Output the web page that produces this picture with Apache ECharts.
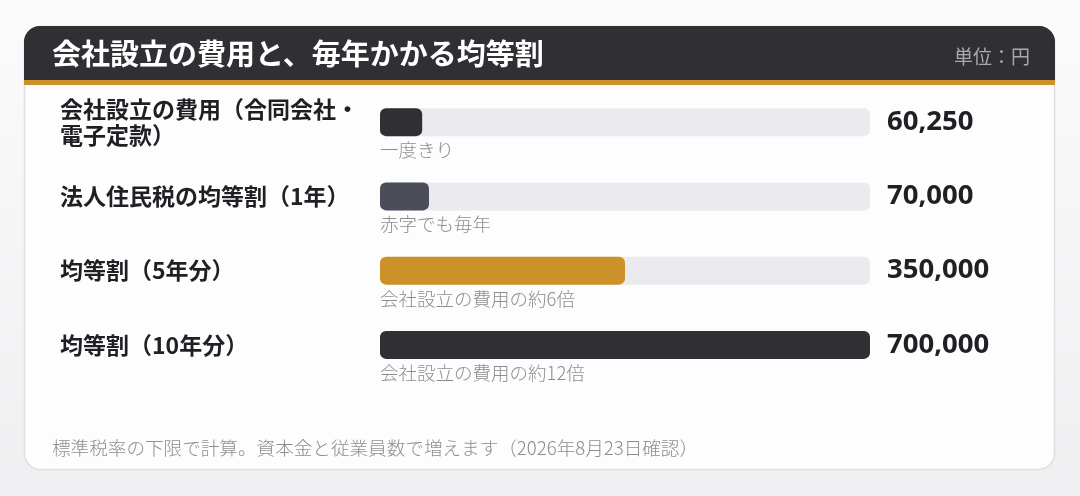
<!DOCTYPE html>
<html><head><meta charset="utf-8">
<script src="https://cdn.jsdelivr.net/npm/echarts@6/dist/echarts.min.js"></script>
<style>html,body{margin:0;padding:0;background:#f4f4f6;}#c{width:1080px;height:496px;}</style>
</head><body><div id="c"></div>
<script>
const title = '会社設立の費用と、毎年かかる均等割';
const unitLabel = '単位：円';
const footnote = '標準税率の下限で計算。資本金と従業員数で増えます（2026年8月23日確認）';
const categories = ['会社設立の費用（合同会社・電子定款）', '法人住民税の均等割（1年）', '均等割（5年分）', '均等割（10年分）'];
const values = [60250, 70000, 350000, 700000];
const notes = ['一度きり', '赤字でも毎年', '会社設立の費用の約6倍', '会社設立の費用の約12倍'];
const barColors = ['#2f2f34', '#4b4d59', '#cc9128', '#2f2f34'];
const axisMax = 700000;

const JP = '"Noto Sans CJK JP", "Noto Sans", sans-serif';
const chart = echarts.init(document.getElementById('c'), null, {renderer: 'canvas'});
chart.setOption({
  animation: false,
  backgroundColor: 'transparent',
  graphic: [
    {type: 'rect', z: -10, shape: {x: 0, y: 0, width: 1080, height: 496},
      style: {fill: new echarts.graphic.LinearGradient(0, 0, 0, 1, [{offset: 0, color: '#fbfbfc'}, {offset: 1, color: '#efeff1'}])}},
    {type: 'rect', z: -9, shape: {x: 24.5, y: 26.5, width: 1030, height: 443, r: 16},
      style: {fill: '#fdfdfd', stroke: '#dedee2', lineWidth: 1.5}},
    {type: 'rect', z: -8, shape: {x: 24, y: 26, width: 1031, height: 59, r: [16, 16, 0, 0]},
      style: {fill: '#cc9128'}},
    {type: 'rect', z: -7, shape: {x: 24, y: 26, width: 1031, height: 54, r: [16, 16, 0, 0]},
      style: {fill: '#2f2f34'}},
    {type: 'text', z: -6, x: 52, y: 54, style: {text: title, fill: '#ffffff', font: 'bold 29px ' + JP, textVerticalAlign: 'middle', textAlign: 'left'}},
    {type: 'text', z: -6, x: 1030, y: 57, style: {text: unitLabel, fill: '#a9a9b0', font: '19px ' + JP, textVerticalAlign: 'middle', textAlign: 'right'}},
    {type: 'text', z: -6, x: 52, y: 448, style: {text: footnote, fill: '#8c8c93', font: '300 18.6px ' + JP, textVerticalAlign: 'middle', textAlign: 'left'}}
  ],
  grid: {left: 380, right: 210, top: 85, bottom: 114, containLabel: false},
  xAxis: {type: 'value', min: 0, max: axisMax, show: false},
  yAxis: [
    {type: 'category', data: categories, inverse: true,
      axisLine: {show: false}, axisTick: {show: false}, splitLine: {show: false},
      axisLabel: {align: 'left', margin: 320, color: '#1f1f24', fontFamily: JP, fontWeight: 'bold', fontSize: 23, lineHeight: 26, width: 305, overflow: 'break'}},
    {type: 'category', data: values.map(v => v.toLocaleString('en-US')), inverse: true, position: 'right',
      axisLine: {show: false}, axisTick: {show: false}, splitLine: {show: false},
      axisLabel: {align: 'left', margin: 17, color: '#1f1f24', fontFamily: '"Noto Sans", sans-serif', fontWeight: 'bold', fontSize: 27.5}}
  ],
  series: [{
    type: 'bar',
    data: values.map((v, i) => ({value: v, itemStyle: {color: barColors[i]}})),
    barWidth: 28,
    itemStyle: {borderRadius: 6},
    showBackground: true,
    backgroundStyle: {color: '#ebebef', borderRadius: 6},
    label: {
      show: true, position: [0, 42], align: 'left', verticalAlign: 'middle',
      formatter: p => notes[p.dataIndex],
      color: '#8c8c93', fontFamily: JP, fontWeight: 300, fontSize: 18.5
    }
  }]
});
</script></body></html>
